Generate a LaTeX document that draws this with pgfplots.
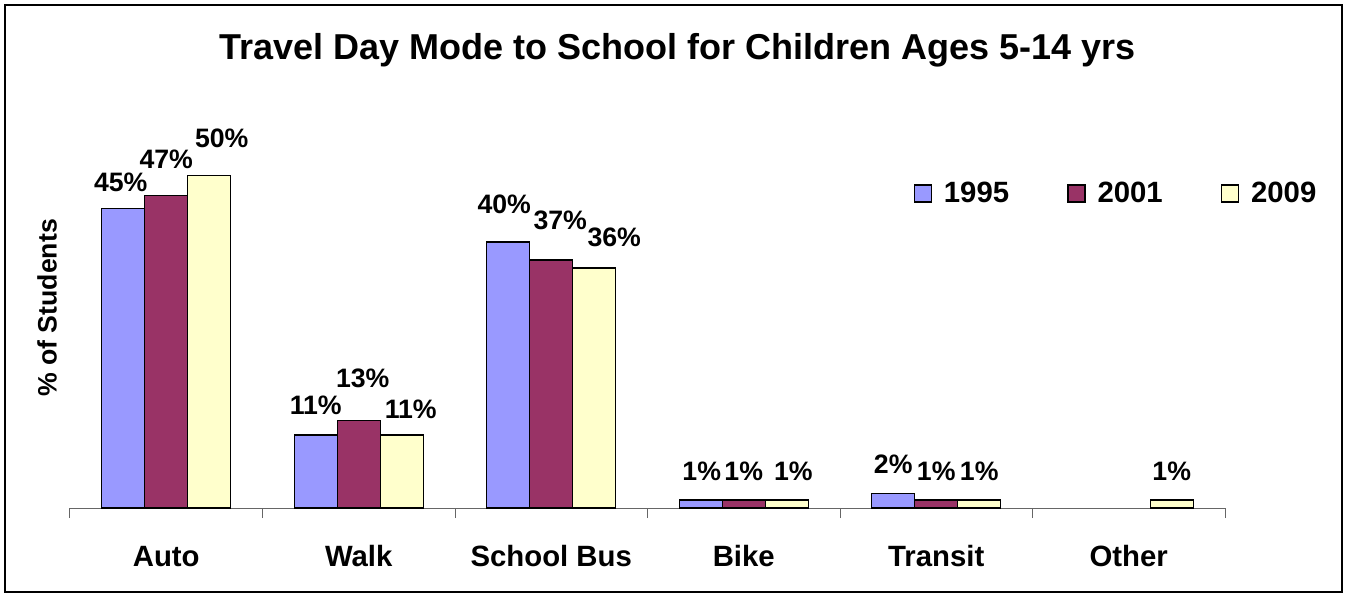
\documentclass[border=0pt]{standalone}
\usepackage{pgfplots}
\usepackage{pgfplotstable}
\pgfplotsset{compat=1.18}
\usepackage{fontspec}
\setmainfont{Liberation Sans}
\definecolor{c95}{HTML}{9999FF}
\definecolor{c01}{HTML}{993366}
\definecolor{c09}{HTML}{FFFFCC}
\pgfplotsset{sqleg/.style={legend image code/.code={\draw[##1] (0pt,-6.4pt) rectangle (12.75pt,6.4pt);}}}
% x = category, y = percent, dx/dy = label offset in px (as in the reference)
\pgfplotstableread{
x y dx dy
0 45 -2.5 17.5
1 11 0 20
2 40 -4 29
3 1.2 1 20
4 2.2 0 20
}\dataA
\pgfplotstableread{
x y dx dy
0 47 0 27
1 13.2 4 33
2 37.3 9 30
3 1.2 0 20
4 1.2 0 20
}\dataB
\pgfplotstableread{
x y dx dy
0 50 12.5 28.5
1 11 9 16
2 36.1 20 21
3 1.2 6.6 20
4 1.2 0 20
5 1.2 0 20
}\dataC
\begin{document}
\begin{tikzpicture}
\path (0,0) rectangle (1010.25pt,447.75pt);
\draw[line width=1.2pt] (3.75pt,3.75pt) rectangle (1006.5pt,444pt);
\node[anchor=base, font=\bfseries\fontsize{27}{32}\selectfont, inner sep=0pt] at (508.1pt,402.75pt) {Travel Day Mode to School for Children Ages 5-14 yrs};
\begin{axis}[
  at={(52.5pt,66.75pt)}, anchor=south west,
  scale only axis, width=866.25pt, height=274.3pt,
  xmin=-0.5, xmax=5.5, ymin=0, ymax=55,
  ybar=0pt, bar width=32.25pt,
  axis x line*=bottom, axis y line*=left,
  y axis line style={draw=none}, ytick=\empty,
  xtick={0,...,5}, xticklabels={Auto,Walk,School Bus,Bike,Transit,Other},
  major tick length=0pt,
  minor xtick={-0.5,0.5,...,5.5},
  minor tick length=7.5pt, tick align=outside,
  x axis line style={black!60, line width=0.75pt},
  minor x tick style={black!60, line width=0.75pt},
  xticklabel style={font=\bfseries\fontsize{22}{26}\selectfont, anchor=base, yshift=-43.5pt},
  ylabel={\% of Students},
  ylabel style={font=\bfseries\fontsize{20}{24}\selectfont, at={(axis description cs:-0.0199,0.547)}, anchor=center},
  /pgf/number format/assume math mode=true,
  visualization depends on={\thisrow{dx} \as \dx},
  visualization depends on={\thisrow{dy} \as \dy},
  nodes near coords={\pgfmathprintnumber[fixed,precision=0]{\pgfplotspointmeta}\%},
  nodes near coords style={font=\bfseries\fontsize{20}{24}\selectfont, anchor=base, inner sep=0pt,
    xshift={0.75*(\dx)}, yshift={0.75*(\dy)}, black},
  legend style={draw=none, fill=none, at={(axis description cs:1.0851,0.8599)}, anchor=east, legend columns=3,
    font=\bfseries\fontsize{22}{26}\selectfont,
    /tikz/every odd column/.append style={column sep=7pt},
    /tikz/every even column/.append style={column sep=41.5pt}},
]
\addplot[fill=c95, draw=black, line width=1pt, sqleg] table[x=x,y=y] {\dataA};
\addplot[fill=c01, draw=black, line width=1pt, sqleg] table[x=x,y=y] {\dataB};
\addplot[fill=c09, draw=black, line width=1pt, sqleg] table[x=x,y=y] {\dataC};
\legend{1995,2001,2009}
\end{axis}
\end{tikzpicture}
\end{document}
